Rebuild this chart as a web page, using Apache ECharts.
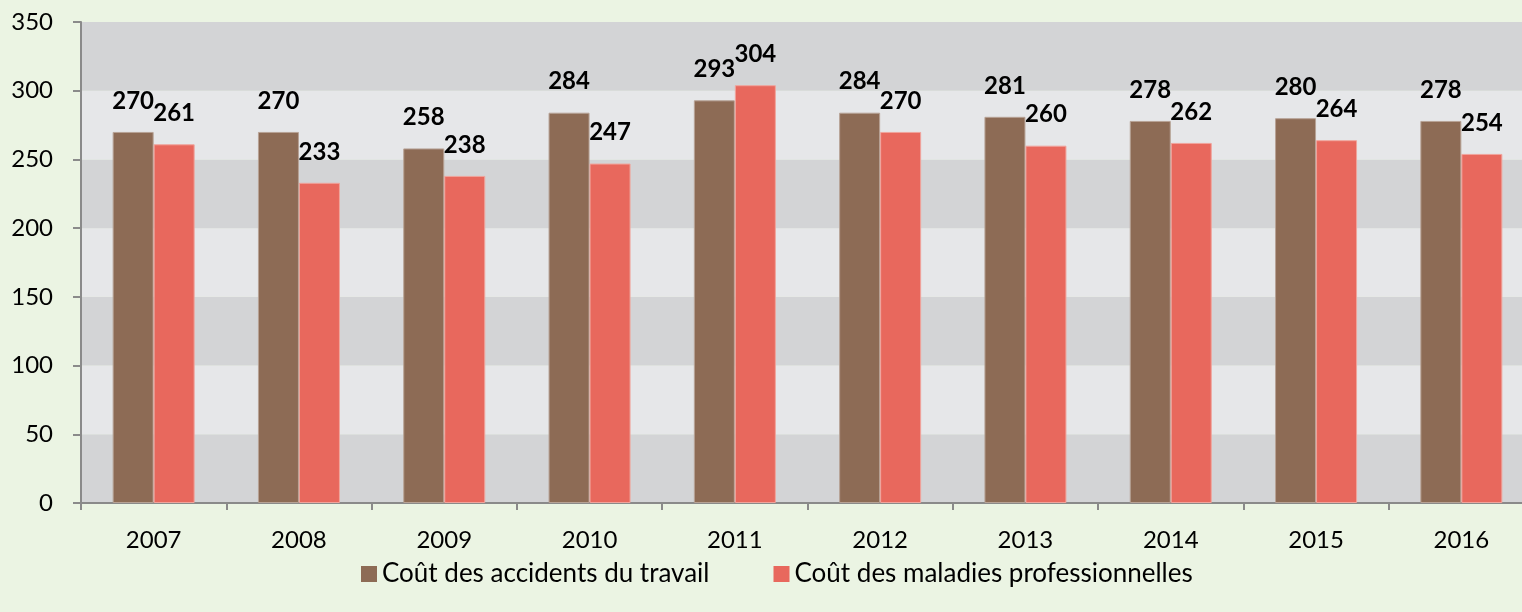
<!DOCTYPE html>
<html>
<head>
<meta charset="utf-8">
<script src="https://cdn.jsdelivr.net/npm/echarts@6/dist/echarts.min.js"></script>
<style>
  html, body { margin: 0; padding: 0; background: #EBF4E3; overflow: hidden; }
  #chart { width: 1534px; height: 612px; }
</style>
</head>
<body>
<div id="chart"></div>
<script>
var years = ['2007', '2008', '2009', '2010', '2011', '2012', '2013', '2014', '2015', '2016']
var accidents = [270, 270, 258, 284, 293, 284, 281, 278, 280, 278]
var maladies = [261, 233, 238, 247, 304, 270, 260, 262, 264, 254]
var yTicks = { min: 0, max: 350, step: 50 }

var font = 'Lato, "Open Sans", sans-serif'

var chart = echarts.init(document.getElementById('chart'))

var barLabel = {
  show: true,
  position: 'top',
  distance: 19,
  fontFamily: font,
  fontWeight: 'bold',
  fontSize: 24,
  lineHeight: 24,
  color: '#000'
}

chart.setOption({
  backgroundColor: '#EBF4E3',
  animation: false,
  grid: { left: 81, right: 0, top: 22, bottom: 109 },
  legend: {
    top: 556,
    left: 356,
    itemWidth: 16,
    itemHeight: 16,
    itemGap: 64,
    icon: 'rect',
    itemStyle: { borderWidth: 0 },
    textStyle: { fontFamily: font, fontSize: 26, color: '#000' },
    data: ['Coût des accidents du travail', 'Coût des maladies professionnelles']
  },
  xAxis: {
    type: 'category',
    data: years,
    axisLine: { lineStyle: { color: '#8A8A8A', width: 2 } },
    axisTick: { show: true, length: 7, lineStyle: { color: '#8A8A8A', width: 2 } },
    axisLabel: { fontFamily: font, fontSize: 24, color: '#000', margin: 25 }
  },
  yAxis: {
    type: 'value',
    min: yTicks.min,
    max: yTicks.max,
    interval: yTicks.step,
    axisLine: { show: true, lineStyle: { color: '#8A8A8A', width: 2 } },
    axisTick: { show: true, length: 8, inside: false, lineStyle: { color: '#8A8A8A', width: 2 } },
    axisLabel: { fontFamily: font, fontSize: 24, color: '#000', margin: 28 },
    splitLine: { show: false },
    splitArea: { show: true, areaStyle: { color: ['#D3D4D6', '#E6E7E9'] } }
  },
  series: [
    {
      name: 'Coût des accidents du travail',
      type: 'bar',
      data: accidents,
      barWidth: 41,
      barGap: '0%',
      itemStyle: { color: '#8D6B55', borderColor: '#B7A295', borderWidth: 1 },
      label: barLabel
    },
    {
      name: 'Coût des maladies professionnelles',
      type: 'bar',
      data: maladies,
      barWidth: 41,
      barGap: '0%',
      itemStyle: { color: '#E8685D', borderColor: '#F0A49C', borderWidth: 1 },
      label: barLabel
    }
  ]
})
</script>
</body>
</html>
